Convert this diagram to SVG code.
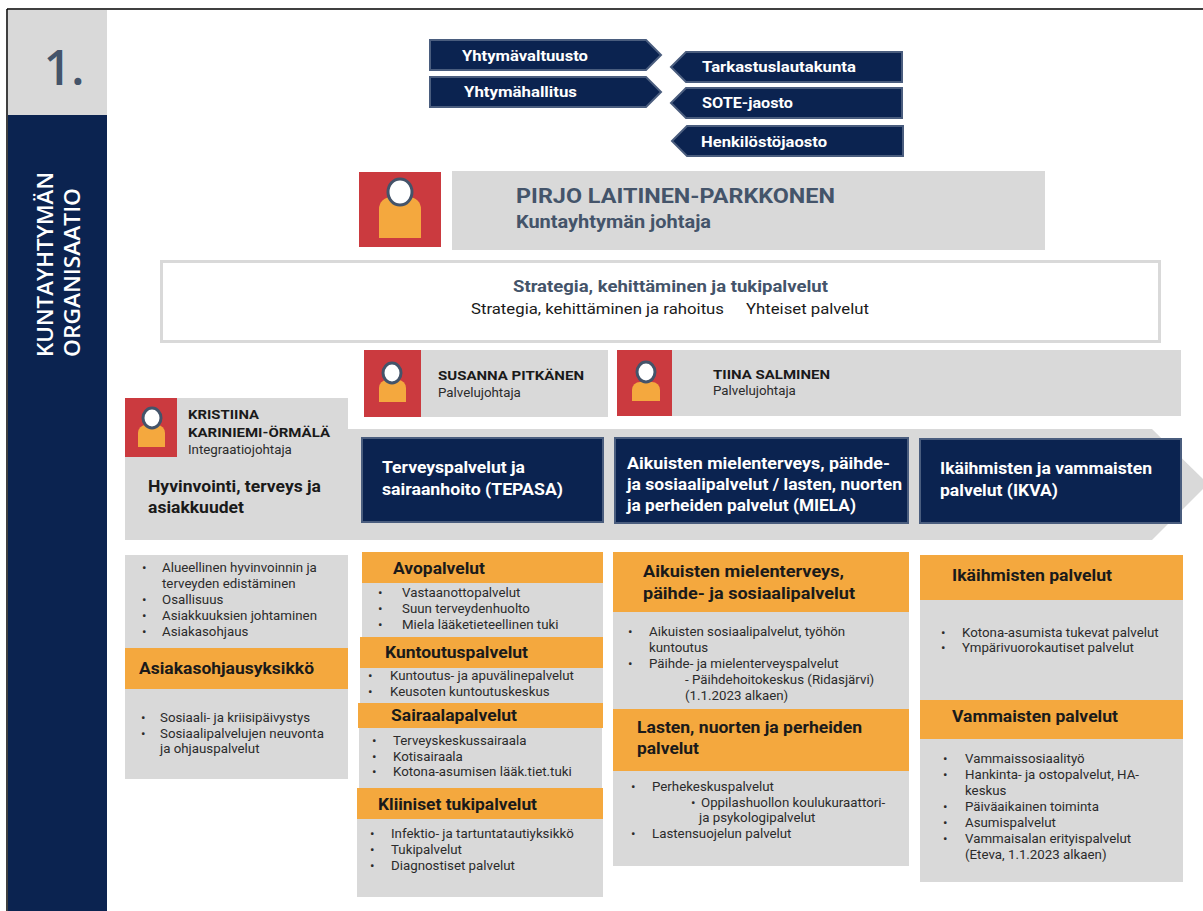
<svg xmlns="http://www.w3.org/2000/svg" width="1203" height="911" viewBox="0 0 1203 911">
<defs>
<style>
.navy{fill:#0B2350;stroke:#4A5D7E;stroke-width:2}
.gray{fill:#D9D9D9}
.orange{fill:#F4A83E}
.red{fill:#CB3A3F}
.body{fill:#F4A83E}
.head{fill:#FFFFFF;stroke:#44546A;stroke-width:3}
.gov{font-family:Roboto,"Liberation Sans",sans-serif;font-weight:700;font-size:14px;fill:#FFFFFF}
.nt{font-family:Roboto,"Liberation Sans",sans-serif;font-weight:700;font-size:17px;fill:#FFFFFF}
.hd{font-family:Roboto,"Liberation Sans",sans-serif;font-weight:700;font-size:17px;fill:#1A1A1A}
.tx{font-family:Roboto,"Liberation Sans",sans-serif;font-size:13.3px;fill:#2B2B2B}
.nm{font-family:Roboto,"Liberation Sans",sans-serif;font-weight:700;font-size:13px;fill:#1A1A1A}
.rl{font-family:Roboto,"Liberation Sans",sans-serif;font-size:13.3px;fill:#2B2B2B}
.sl{font-family:Roboto,"Liberation Sans",sans-serif;font-weight:700;fill:#44546A}
</style>
</defs>
<rect x="0" y="0" width="1203" height="911" fill="#FFFFFF"/>

<g id="frame">
<line x1="7" y1="9" x2="1203" y2="9" stroke="#000000" stroke-width="1.5"/>
<line x1="7" y1="9" x2="7" y2="911" stroke="#000000" stroke-width="1.5"/>
</g>

<g id="sidebar">
<rect x="8" y="10" width="99" height="105" fill="#D9D9D9"/>
<text x="64" y="85" text-anchor="middle" font-family="'Open Sans',Lato,sans-serif" font-size="48" font-weight="600" fill="#44546A">1.</text>
<rect x="8" y="115" width="99" height="796" fill="#0B2350"/>
<text transform="translate(53,357) rotate(-90)" font-family="'Open Sans',Lato,sans-serif" font-size="22" font-weight="600" fill="#FFFFFF" textLength="185" lengthAdjust="spacingAndGlyphs">KUNTAYHTYMÄN</text>
<text transform="translate(80,357) rotate(-90)" font-family="'Open Sans',Lato,sans-serif" font-size="22" font-weight="600" fill="#FFFFFF" textLength="169" lengthAdjust="spacingAndGlyphs">ORGANISAATIO</text>
</g>

<g id="yhtymavaltuusto">
<polygon class="navy" points="430,40 646,40 661,55 646,70 430,70"/>
<text class="gov" x="462" y="61" textLength="126" lengthAdjust="spacingAndGlyphs">Yhtymävaltuusto</text>
</g>
<g id="yhtymahallitus">
<polygon class="navy" points="430,77 646,77 661,92 646,107 430,107"/>
<text class="gov" x="464" y="97" textLength="113" lengthAdjust="spacingAndGlyphs">Yhtymähallitus</text>
</g>
<g id="tarkastuslautakunta">
<polygon class="navy" points="671,67 686,52 902,52 902,82 686,82"/>
<text class="gov" x="702" y="72" textLength="154" lengthAdjust="spacingAndGlyphs">Tarkastuslautakunta</text>
</g>
<g id="sote-jaosto">
<polygon class="navy" points="671,103 686,88 902,88 902,118 686,118"/>
<text class="gov" x="702" y="108" textLength="91" lengthAdjust="spacingAndGlyphs">SOTE-jaosto</text>
</g>
<g id="henkilostojaosto">
<polygon class="navy" points="672,141 687,126 903,126 903,156 687,156"/>
<text class="gov" x="701" y="147" textLength="126" lengthAdjust="spacingAndGlyphs">Henkilöstöjaosto</text>
</g>

<g id="johtaja">
<rect class="red" x="359" y="172" width="82" height="75"/>
<path class="body" d="M379,238 V209 A12,12 0 0 1 391,197 H409 A12,12 0 0 1 421,209 V238 Z"/>
<ellipse class="head" cx="400" cy="192" rx="12" ry="13"/>
<rect class="gray" x="452" y="171" width="593" height="79"/>
<text class="sl" x="516" y="203" font-size="21" textLength="319" lengthAdjust="spacingAndGlyphs">PIRJO LAITINEN-PARKKONEN</text>
<text class="sl" x="516" y="228" font-size="18" textLength="195" lengthAdjust="spacingAndGlyphs">Kuntayhtymän johtaja</text>
</g>

<g id="strategia">
<rect x="161.5" y="261.5" width="998" height="80" fill="#FFFFFF" stroke="#D9D9D9" stroke-width="3"/>
<text class="sl" x="513" y="292" font-size="16" textLength="315" lengthAdjust="spacingAndGlyphs">Strategia, kehittäminen ja tukipalvelut</text>
<text x="471" y="314" font-family="Roboto,'Liberation Sans',sans-serif" font-size="15" fill="#1A1A1A" textLength="253" lengthAdjust="spacingAndGlyphs">Strategia, kehittäminen ja rahoitus</text>
<text x="746" y="314" font-family="Roboto,'Liberation Sans',sans-serif" font-size="15" fill="#1A1A1A" textLength="123" lengthAdjust="spacingAndGlyphs">Yhteiset palvelut</text>
</g>

<g id="band">
<polygon class="gray" points="125,429 1152,429 1208,484 1152,540 125,540"/>
</g>

<g id="susanna">
<rect class="gray" x="421" y="350" width="187" height="67"/>
<rect class="red" x="364" y="350" width="57" height="67"/>
<path class="body" d="M379,402 V388 A8,8 0 0 1 387,380 H398 A8,8 0 0 1 406,388 V402 Z"/>
<ellipse class="head" cx="392" cy="373" rx="9" ry="10"/>
<text class="nm" x="438" y="380" textLength="146" lengthAdjust="spacingAndGlyphs">SUSANNA PITKÄNEN</text>
<text class="rl" x="438" y="397">Palvelujohtaja</text>
</g>

<g id="tiina">
<rect class="gray" x="672" y="350" width="509" height="66"/>
<rect class="red" x="617" y="350" width="55" height="66"/>
<path class="body" d="M632,401 V390 A8,8 0 0 1 640,382 H652 A8,8 0 0 1 660,390 V401 Z"/>
<ellipse class="head" cx="646" cy="372" rx="9" ry="10"/>
<text class="nm" x="713" y="379" textLength="117" lengthAdjust="spacingAndGlyphs">TIINA SALMINEN</text>
<text class="rl" x="713" y="395">Palvelujohtaja</text>
</g>

<g id="kristiina">
<rect class="gray" x="125" y="398" width="223" height="35"/>
<rect class="red" x="125" y="398" width="52" height="59"/>
<path class="body" d="M138,447 V433 A8,8 0 0 1 146,425 H157 A8,8 0 0 1 165,433 V447 Z"/>
<ellipse class="head" cx="152" cy="418" rx="9" ry="10"/>
<text class="nm" x="188" y="419" textLength="71" lengthAdjust="spacingAndGlyphs">KRISTIINA</text>
<text class="nm" x="188" y="437" textLength="142" lengthAdjust="spacingAndGlyphs">KARINIEMI-ÖRMÄLÄ</text>
<text class="rl" x="188" y="454">Integraatiojohtaja</text>
<text class="hd" x="148" y="492" textLength="173" lengthAdjust="spacingAndGlyphs">Hyvinvointi, terveys ja</text>
<text class="hd" x="148" y="513" textLength="96" lengthAdjust="spacingAndGlyphs">asiakkuudet</text>
</g>

<g id="tepasa">
<rect class="navy" x="362" y="438" width="241" height="84"/>
<text class="nt" x="382" y="473" textLength="143" lengthAdjust="spacingAndGlyphs">Terveyspalvelut ja</text>
<text class="nt" x="382" y="495" textLength="181" lengthAdjust="spacingAndGlyphs">sairaanhoito (TEPASA)</text>
</g>

<g id="miela">
<rect class="navy" x="615" y="438" width="293" height="85"/>
<text class="nt" x="627" y="469" textLength="263" lengthAdjust="spacingAndGlyphs">Aikuisten mielenterveys, päihde-</text>
<text class="nt" x="627" y="490" textLength="275" lengthAdjust="spacingAndGlyphs">ja sosiaalipalvelut / lasten, nuorten</text>
<text class="nt" x="627" y="511" textLength="229" lengthAdjust="spacingAndGlyphs">ja perheiden palvelut (MIELA)</text>
</g>

<g id="ikva">
<rect class="navy" x="920" y="439" width="261" height="84"/>
<text class="nt" x="940" y="474" textLength="212" lengthAdjust="spacingAndGlyphs">Ikäihmisten ja vammaisten</text>
<text class="nt" x="940" y="496" textLength="118" lengthAdjust="spacingAndGlyphs">palvelut (IKVA)</text>
</g>

<g id="hyvinvointi-palvelut">
<rect class="gray" x="125" y="555" width="223" height="93"/>
<text class="tx" x="142" y="572">•</text><text class="tx" x="162" y="572">Alueellinen hyvinvoinnin ja</text>
<text class="tx" x="162" y="588">terveyden edistäminen</text>
<text class="tx" x="142" y="604">•</text><text class="tx" x="162" y="604">Osallisuus</text>
<text class="tx" x="142" y="620">•</text><text class="tx" x="162" y="620">Asiakkuuksien johtaminen</text>
<text class="tx" x="142" y="636">•</text><text class="tx" x="162" y="636">Asiakasohjaus</text>
</g>
<g id="asiakasohjausyksikko">
<rect class="orange" x="125" y="648" width="223" height="41"/>
<text class="hd" x="139" y="674" textLength="175" lengthAdjust="spacingAndGlyphs">Asiakasohjausyksikkö</text>
<rect class="gray" x="125" y="689" width="223" height="90"/>
<text class="tx" x="141" y="722">•</text><text class="tx" x="160" y="722">Sosiaali- ja kriisipäivystys</text>
<text class="tx" x="141" y="738">•</text><text class="tx" x="160" y="738">Sosiaalipalvelujen neuvonta</text>
<text class="tx" x="160" y="753">ja ohjauspalvelut</text>
</g>

<g id="avopalvelut">
<rect class="gray" x="362" y="582" width="241" height="56"/>
<rect class="orange" x="362" y="552" width="241" height="31"/>
<text class="hd" x="393" y="574" textLength="92" lengthAdjust="spacingAndGlyphs">Avopalvelut</text>
<text class="tx" x="378" y="597">•</text><text class="tx" x="402" y="597">Vastaanottopalvelut</text>
<text class="tx" x="378" y="613">•</text><text class="tx" x="402" y="613">Suun terveydenhuolto</text>
<text class="tx" x="378" y="629">•</text><text class="tx" x="402" y="629">Miela lääketieteellinen tuki</text>
</g>
<g id="kuntoutuspalvelut">
<rect class="gray" x="360" y="667" width="243" height="37"/>
<rect class="orange" x="360" y="637" width="243" height="31"/>
<text class="hd" x="385" y="658" textLength="143" lengthAdjust="spacingAndGlyphs">Kuntoutuspalvelut</text>
<text class="tx" x="368" y="680">•</text><text class="tx" x="390" y="680">Kuntoutus- ja apuvälinepalvelut</text>
<text class="tx" x="368" y="696">•</text><text class="tx" x="390" y="696">Keusoten kuntoutuskeskus</text>
</g>
<g id="sairaalapalvelut">
<rect class="gray" x="359" y="727" width="243" height="62"/>
<rect class="orange" x="358" y="703" width="245" height="25"/>
<text class="hd" x="391" y="721" textLength="126" lengthAdjust="spacingAndGlyphs">Sairaalapalvelut</text>
<text class="tx" x="372" y="745">•</text><text class="tx" x="393" y="745">Terveyskeskussairaala</text>
<text class="tx" x="372" y="761">•</text><text class="tx" x="393" y="761">Kotisairaala</text>
<text class="tx" x="372" y="776">•</text><text class="tx" x="393" y="776">Kotona-asumisen lääk.tiet.tuki</text>
</g>
<g id="kliiniset-tukipalvelut">
<rect class="gray" x="357" y="819" width="246" height="78"/>
<rect class="orange" x="357" y="788" width="246" height="31"/>
<text class="hd" x="378" y="810" textLength="159" lengthAdjust="spacingAndGlyphs">Kliiniset tukipalvelut</text>
<text class="tx" x="370" y="838">•</text><text class="tx" x="391" y="838">Infektio- ja tartuntatautiyksikkö</text>
<text class="tx" x="370" y="854">•</text><text class="tx" x="391" y="854">Tukipalvelut</text>
<text class="tx" x="370" y="870">•</text><text class="tx" x="391" y="870">Diagnostiset palvelut</text>
</g>

<g id="aikuisten-palvelut">
<rect class="gray" x="613" y="611" width="296" height="99"/>
<rect class="orange" x="613" y="552" width="296" height="60"/>
<text class="hd" x="643" y="577" textLength="201" lengthAdjust="spacingAndGlyphs">Aikuisten mielenterveys,</text>
<text class="hd" x="643" y="599" textLength="212" lengthAdjust="spacingAndGlyphs">päihde-  ja sosiaalipalvelut</text>
<text class="tx" x="628" y="636">•</text><text class="tx" x="649" y="636">Aikuisten sosiaalipalvelut, työhön</text>
<text class="tx" x="649" y="652">kuntoutus</text>
<text class="tx" x="628" y="668">•</text><text class="tx" x="649" y="668">Päihde- ja mielenterveyspalvelut</text>
<text class="tx" x="685" y="684">- Päihdehoitokeskus (Ridasjärvi)</text>
<text class="tx" x="685" y="700">(1.1.2023 alkaen)</text>
</g>
<g id="lasten-palvelut">
<rect class="gray" x="613" y="770" width="296" height="96"/>
<rect class="orange" x="613" y="709" width="296" height="62"/>
<text class="hd" x="637" y="733" textLength="225" lengthAdjust="spacingAndGlyphs">Lasten, nuorten ja perheiden</text>
<text class="hd" x="637" y="754" textLength="62" lengthAdjust="spacingAndGlyphs">palvelut</text>
<text class="tx" x="631" y="791">•</text><text class="tx" x="652" y="791">Perhekeskuspalvelut</text>
<text class="tx" x="691" y="807">•</text><text class="tx" x="701" y="807">Oppilashuollon koulukuraattori-</text>
<text class="tx" x="699" y="822">ja psykologipalvelut</text>
<text class="tx" x="631" y="838">•</text><text class="tx" x="652" y="838">Lastensuojelun palvelut</text>
</g>

<g id="ikaihmisten-palvelut">
<rect class="gray" x="920" y="599" width="263" height="101"/>
<rect class="orange" x="920" y="555" width="263" height="45"/>
<text class="hd" x="952" y="581" textLength="160" lengthAdjust="spacingAndGlyphs">Ikäihmisten palvelut</text>
<text class="tx" x="941" y="637">•</text><text class="tx" x="962" y="637">Kotona-asumista tukevat palvelut</text>
<text class="tx" x="941" y="652">•</text><text class="tx" x="962" y="652">Ympärivuorokautiset palvelut</text>
</g>
<g id="vammaisten-palvelut">
<rect class="gray" x="920" y="738" width="263" height="144"/>
<rect class="orange" x="920" y="700" width="263" height="39"/>
<text class="hd" x="952" y="722" textLength="166" lengthAdjust="spacingAndGlyphs">Vammaisten palvelut</text>
<text class="tx" x="943" y="763">•</text><text class="tx" x="965" y="763">Vammaissosiaalityö</text>
<text class="tx" x="943" y="779">•</text><text class="tx" x="965" y="779">Hankinta- ja ostopalvelut, HA-</text>
<text class="tx" x="965" y="795">keskus</text>
<text class="tx" x="943" y="811">•</text><text class="tx" x="965" y="811">Päiväaikainen toiminta</text>
<text class="tx" x="943" y="827">•</text><text class="tx" x="965" y="827">Asumispalvelut</text>
<text class="tx" x="943" y="843">•</text><text class="tx" x="965" y="843">Vammaisalan erityispalvelut</text>
<text class="tx" x="965" y="859">(Eteva, 1.1.2023 alkaen)</text>
</g>

<g id="connectors"></g>
</svg>
